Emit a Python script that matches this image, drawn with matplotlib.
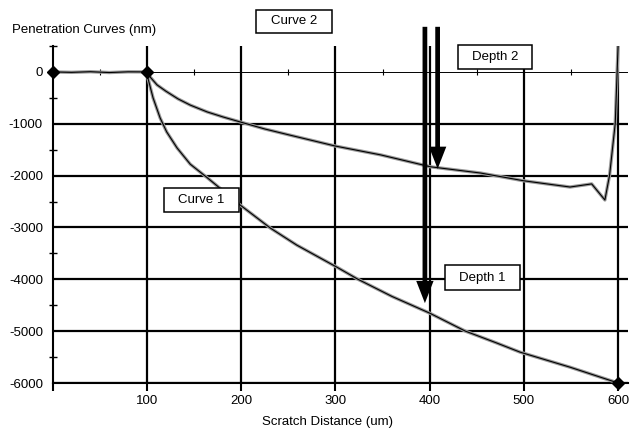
import numpy as np
import matplotlib
matplotlib.use("Agg")
import matplotlib.pyplot as plt
from matplotlib.patches import Rectangle

plt.rcParams['font.family'] = ['Liberation Sans', 'DejaVu Sans']
plt.rcParams['font.size'] = 9.5
plt.rcParams['axes.unicode_minus'] = False

# flat approach before the scratch
flat_x = [0, 20, 40, 60, 80, 100]
flat_y = [0, -8, 4, -12, 2, 0]

# curve 1 (deep penetration)
c1_x = [100, 101, 106.5, 114, 121, 132, 146, 164, 176, 199, 231, 259, 302, 324, 360, 400, 438, 470, 496, 549, 600]
c1_y = [0, -116, -500, -888, -1158, -1467, -1780, -2040, -2220, -2568, -3012, -3340, -3770, -4000,
        -4330, -4652, -5000, -5220, -5405, -5695, -6000]

# curve 2 (shallow penetration)
c2_x = [100, 104, 110.7, 120, 133, 146, 164, 181, 199, 225, 252, 300, 348, 401, 454, 500, 549, 572, 586, 591, 597, 600]
c2_y = [0, -110, -250, -370, -520, -640, -772, -870, -965, -1100, -1220, -1430, -1600, -1830, -1950, -2100,
        -2220, -2160, -2470, -1990, -990, 500]

marker_x = [0, 100, 600]
marker_y = [0, 0, -6000]

x_major = [0, 100, 200, 300, 400, 500, 600]
x_labels = ['', '100', '200', '300', '400', '500', '600']
y_major = [0, -1000, -2000, -3000, -4000, -5000, -6000]
y_minor = [500, -500, -1500, -2500, -3500, -4500, -5500]
x_minor = [50, 150, 250, 350, 450, 550]

# depth arrows: (x, start y, tip y)
depth1 = (395, 870, -4460)
depth2 = (408.5, 870, -1870)

W, H = 631, 429
fig = plt.figure(figsize=(W / 100, H / 100), dpi=100)
ax = fig.add_axes([52.7 / W, 1 - 383 / H, (627.5 - 52.7) / W, (383 - 46) / H])
ax.set_xlim(0, 610)
ax.set_ylim(-6000, 500)

for s in ['top', 'right']:
    ax.spines[s].set_visible(False)
ax.spines['left'].set_linewidth(1.5)
ax.spines['bottom'].set_linewidth(1.5)

# grid
ax.hlines(y_major[1:], 0, 610, colors='black', lw=1.6, zorder=1)
ax.vlines(x_major[1:], -6000, 500, colors='black', lw=1.6, zorder=1)
ax.axhline(0, color='black', lw=0.7, zorder=1)
ax.plot(x_minor, [0] * len(x_minor), ls='none', marker='|', ms=5, mew=0.8, color='black', zorder=1)

ax.set_xticks(x_major)
ax.set_xticklabels(x_labels)
ax.set_yticks(y_major)
ax.set_yticks(y_minor, minor=True)
ax.tick_params(axis='x', direction='out', length=6, width=1.5, pad=3)
ax.tick_params(axis='y', which='major', length=0, pad=7)
ax.tick_params(axis='y', which='minor', direction='inout', length=6, width=1)

# curves: grey traces under black
for xs, ys in [(flat_x, flat_y), (c1_x, c1_y), (c2_x, c2_y)]:
    ax.plot(xs, ys, color='0.6', lw=2.4, zorder=3, solid_capstyle='round', solid_joinstyle='round')
    ax.plot(xs, ys, color='black', lw=0.8, zorder=4)
ax.plot(marker_x, marker_y, ls='none', marker='D', ms=6.5, color='black', zorder=5, clip_on=False)

for x, y0, y1 in [depth1, depth2]:
    ax.annotate('', xy=(x, y1), xytext=(x, y0), annotation_clip=False,
                arrowprops=dict(arrowstyle='simple,head_length=1.6,head_width=1.25,tail_width=0.34',
                                fc='black', ec='none', lw=0, mutation_scale=10,
                                shrinkA=0, shrinkB=0), zorder=6)


def label_box(x0, y0, x1, y1, s):
    fig.add_artist(Rectangle((x0 / W, 1 - y1 / H), (x1 - x0) / W, (y1 - y0) / H,
                             transform=fig.transFigure, fc='white', ec='black', lw=1.1, zorder=7))
    fig.text((x0 + x1) / 2 / W, 1 - (y0 + y1) / 2 / H, s, ha='center', va='center', zorder=8)


label_box(256, 10, 332, 33, 'Curve 2')
label_box(458, 45, 532, 69, 'Depth 2')
label_box(164, 188, 239, 212, 'Curve 1')
label_box(445, 265, 520, 290, 'Depth 1')

fig.text(12 / W, 1 - 30 / H, 'Penetration Curves (nm)', ha='left', va='center')
fig.text(328 / W, 1 - 422 / H, 'Scratch Distance (um)', ha='center', va='center')

fig.savefig('out.png', dpi=100)
